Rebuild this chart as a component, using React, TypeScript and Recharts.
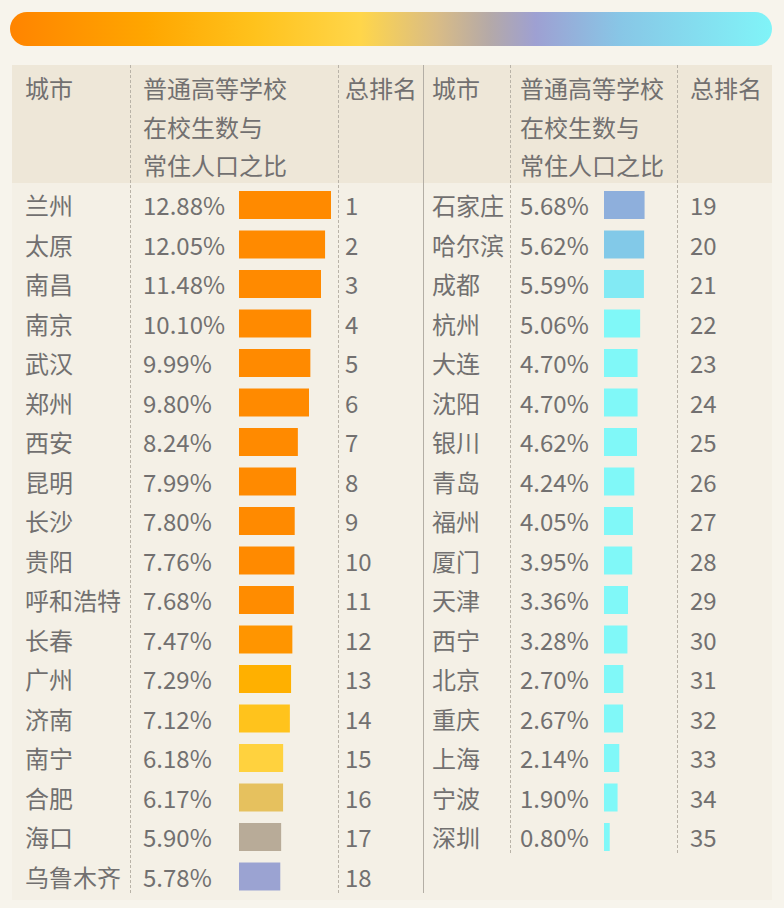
import React from 'react';
import { BarChart, Bar, XAxis, YAxis, Cell } from 'recharts';

const leftCities = ['兰州', '太原', '南昌', '南京', '武汉', '郑州', '西安', '昆明', '长沙', '贵阳', '呼和浩特', '长春', '广州', '济南', '南宁', '合肥', '海口', '乌鲁木齐'];
const leftRatios = [12.88, 12.05, 11.48, 10.1, 9.99, 9.8, 8.24, 7.99, 7.8, 7.76, 7.68, 7.47, 7.29, 7.12, 6.18, 6.17, 5.9, 5.78];
const leftRanks = [1, 2, 3, 4, 5, 6, 7, 8, 9, 10, 11, 12, 13, 14, 15, 16, 17, 18];

const rightCities = ['石家庄', '哈尔滨', '成都', '杭州', '大连', '沈阳', '银川', '青岛', '福州', '厦门', '天津', '西宁', '北京', '重庆', '上海', '宁波', '深圳'];
const rightRatios = [5.68, 5.62, 5.59, 5.06, 4.7, 4.7, 4.62, 4.24, 4.05, 3.95, 3.36, 3.28, 2.7, 2.67, 2.14, 1.9, 0.8];
const rightRanks = [19, 20, 21, 22, 23, 24, 25, 26, 27, 28, 29, 30, 31, 32, 33, 34, 35];

const headerCity = '城市';
const headerRatio = ['普通高等学校', '在校生数与', '常住人口之比'];
const headerRank = '总排名';

// one colour per bar, following the gradient strip at the top
const leftColors = [
  '#ff8a00', '#ff8a00', '#ff8a00', '#ff8a00', '#ff8a00', '#ff8a00', '#ff8a00', '#ff8a00', '#ff8a00',
  '#ff8a00', '#ff8c00', '#ff9500', '#ffb000', '#ffc31c', '#ffd23e', '#e6c15e', '#b8ab98', '#9ba3d2',
];
const rightColors = [
  '#8eafdc', '#82c9e8', '#82eaf4', '#80f8f8', '#80f8f8', '#80f8f8', '#80f8f8', '#80f8f8', '#80f8f8',
  '#80f8f8', '#80f8f8', '#80f8f8', '#80f8f8', '#80f8f8', '#80f8f8', '#80f8f8', '#80f8f8',
];

const ROW_H = 39.5;
const TOP = 185;
const MAX = 12.88;
const FS = 24;
const textColor = '#727070';
const font = '"Noto Sans CJK SC", "Noto Sans", sans-serif';

function makeTick(cols: { city: number; pct: number; rank: number }, ratios: number[], ranks: number[]) {
  return function RowTick(props: any) {
    const { y, payload, index } = props;
    const i = index ?? payload.index;
    return (
      <g>
        <text x={cols.city} y={y} dominantBaseline="central" fill={textColor} fontSize={FS} fontFamily={font}>
          {payload.value}
        </text>
        <text x={cols.pct} y={y} dominantBaseline="central" fill={textColor} fontSize={FS} fontFamily={font}>
          {ratios[i].toFixed(2)}%
        </text>
        <text x={cols.rank} y={y} dominantBaseline="central" fill={textColor} fontSize={FS} fontFamily={font}>
          {ranks[i]}
        </text>
      </g>
    );
  };
}

const LeftTick = makeTick({ city: 25, pct: 143, rank: 345 }, leftRatios, leftRanks);
const RightTick = makeTick({ city: 8, pct: 96, rank: 266 }, rightRatios, rightRanks);

const vline = (x: number, top: number, bottom: number, style: string) => (
  <div style={{ position: 'absolute', left: x, top, height: bottom - top, borderLeft: style }} />
);

export default function App() {
  const leftData = leftCities.map((city, i) => ({ city, value: leftRatios[i] }));
  const rightData = rightCities.map((city, i) => ({ city, value: rightRatios[i] }));

  const headText = (x: number, y: number, t: string) => (
    <div style={{ position: 'absolute', left: x, top: y, fontSize: FS, lineHeight: '28px', color: textColor, fontFamily: font, whiteSpace: 'nowrap' }}>
      {t}
    </div>
  );

  return (
    <div style={{ position: 'absolute', left: 0, top: 0, width: 784, height: 908, background: '#f7f4ec', overflow: 'hidden' }}>
      <div
        style={{
          position: 'absolute', left: 10, top: 12, width: 762, height: 34, borderRadius: 17,
          background: 'linear-gradient(90deg, #ff8400 0%, #ffa600 18%, #ffc21c 32%, #ffd64a 46%, #d9bc86 56%, #b4a9a8 63%, #9ea0d2 69%, #88c6e6 80%, #80f4f8 100%)',
        }}
      />
      <div style={{ position: 'absolute', left: 12, top: 65, width: 760, height: 835, background: '#f4f0e6' }} />
      <div style={{ position: 'absolute', left: 12, top: 65, width: 760, height: 118, background: '#eee7d8' }} />

      {headText(25, 74, headerCity)}
      {headerRatio.map((t, i) => headText(143, 74 + i * 38.5, t))}
      {headText(345, 74, headerRank)}
      {headText(432, 74, headerCity)}
      {headerRatio.map((t, i) => headText(520, 74 + i * 38.5, t))}
      {headText(690, 74, headerRank)}

      {vline(130, 65, 893, '1px dashed #b9b3a8')}
      {vline(338, 65, 893, '1px dashed #b9b3a8')}
      {vline(423, 65, 893, '1px solid #b3aea5')}
      {vline(510, 65, 853, '1px dashed #b9b3a8')}
      {vline(677, 65, 853, '1px dashed #b9b3a8')}

      <div style={{ position: 'absolute', left: 0, top: TOP }}>
        <BarChart width={424} height={ROW_H * leftData.length} data={leftData} layout="vertical" margin={{ top: 0, right: 93, bottom: 0, left: 0 }}>
          <XAxis type="number" domain={[0, MAX]} hide />
          <YAxis type="category" dataKey="city" width={239} axisLine={false} tickLine={false} interval={0} tick={<LeftTick />} />
          <Bar dataKey="value" barSize={28} isAnimationActive={false}>
            {leftData.map((d, i) => (
              <Cell key={d.city} fill={leftColors[i]} />
            ))}
          </Bar>
        </BarChart>
      </div>

      <div style={{ position: 'absolute', left: 424, top: TOP }}>
        <BarChart width={360} height={ROW_H * rightData.length} data={rightData} layout="vertical" margin={{ top: 0, right: 88, bottom: 0, left: 0 }}>
          <XAxis type="number" domain={[0, MAX]} hide />
          <YAxis type="category" dataKey="city" width={180} axisLine={false} tickLine={false} interval={0} tick={<RightTick />} />
          <Bar dataKey="value" barSize={28} isAnimationActive={false}>
            {rightData.map((d, i) => (
              <Cell key={d.city} fill={rightColors[i]} />
            ))}
          </Bar>
        </BarChart>
      </div>
    </div>
  );
}
